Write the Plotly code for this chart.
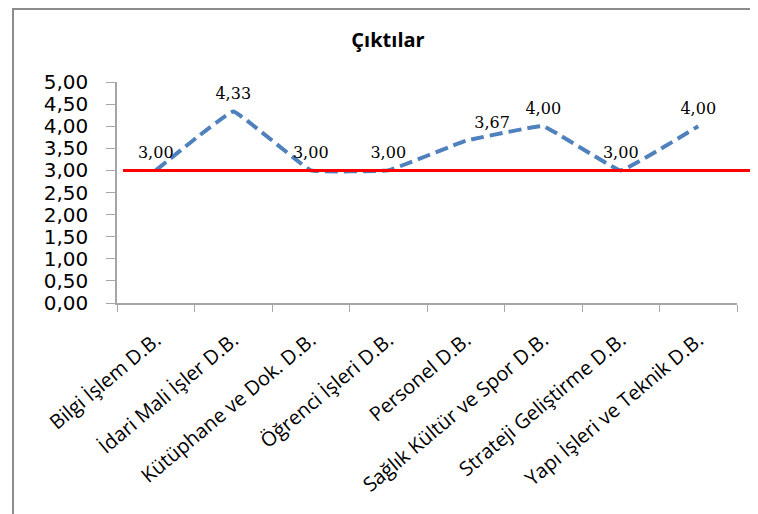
import plotly.graph_objects as go

categories = ["Bilgi İşlem D.B.", "İdari Mali İşler D.B.", "Kütüphane ve Dok. D.B.",
              "Öğrenci İşleri D.B.", "Personel D.B.", "Sağlık Kültür ve Spor D.B.",
              "Strateji Geliştirme D.B.", "Yapı İşleri ve Teknik D.B."]
values = [3.00, 4.33, 3.00, 3.00, 3.67, 4.00, 3.00, 4.00]
label_positions = ["top center", "top center", "top center", "top center",
                   "top right", "top center", "top center", "top center"]
threshold = 3.00
title_text = "Çıktılar"

# the page adds an 8px body margin, so the figure is laid out 8px smaller
OFF = 8
W, H = 758 - OFF, 514 - OFF
L, T = 117 - OFF, 82 - OFF
R = W - (737 - OFF)
B = H - (303 - OFF)
pw = W - L - R
ph = H - T - B

fig = go.Figure()
fig.add_trace(go.Scatter(
    x=categories, y=values, mode="lines+markers+text",
    line=dict(color="#4F81BD", width=4, dash="13px,6px", shape="spline", smoothing=0.2),
    marker=dict(size=12, color="rgba(0,0,0,0)"),
    text=[f"{v:.2f}".replace(".", ",") for v in values],
    textposition=label_positions,
    textfont=dict(family="DejaVu Serif", size=16, color="#000000"),
    cliponaxis=False, hoverinfo="skip", showlegend=False,
))

# red reference line at threshold (extends slightly past the plot area like the original)
fig.add_shape(type="line", xref="paper", yref="y",
              x0=(123 - OFF - L) / pw, x1=(752 - OFF - L) / pw, y0=threshold, y1=threshold,
              line=dict(color="#FF0000", width=3), layer="above")

# chart frame
fig.add_shape(type="rect", xref="paper", yref="paper",
              x0=(13 - OFF - L) / pw, x1=1.2, y0=-1.2, y1=(H - B - 1) / ph,
              line=dict(color="#8C8C8C", width=2), fillcolor="rgba(0,0,0,0)", layer="below")

fig.update_layout(
    width=W, height=H,
    margin=dict(l=L, r=R, t=T, b=B, autoexpand=False),
    paper_bgcolor="white", plot_bgcolor="white",
    separators=",.",
    title=dict(text=f"<b>{title_text}</b>", x=(388 - OFF) / W, xanchor="center",
               y=1 - (40 - OFF) / H, yanchor="middle", automargin=False,
               font=dict(family="Open Sans", size=20, color="#000000")),
    xaxis=dict(type="category", range=[-0.5, 7.5], showgrid=False, automargin=False,
               showline=True, linecolor="#A6A6A6", linewidth=1.5,
               ticks="outside", tickson="boundaries", ticklen=7, tickcolor="#A6A6A6",
               tickangle=-40, ticklabelstandoff=16,
               tickfont=dict(family="Open Sans", size=20, color="#000000")),
    yaxis=dict(range=[0, 5], dtick=0.5, tickformat=".2f", showgrid=False, automargin=False,
               showline=True, linecolor="#A6A6A6", linewidth=1.5,
               ticks="outside", ticklen=9, tickcolor="#A6A6A6", ticklabelstandoff=14,
               zeroline=False,
               tickfont=dict(family="DejaVu Sans", size=20, color="#000000")),
)

fig.write_html("out.html")
